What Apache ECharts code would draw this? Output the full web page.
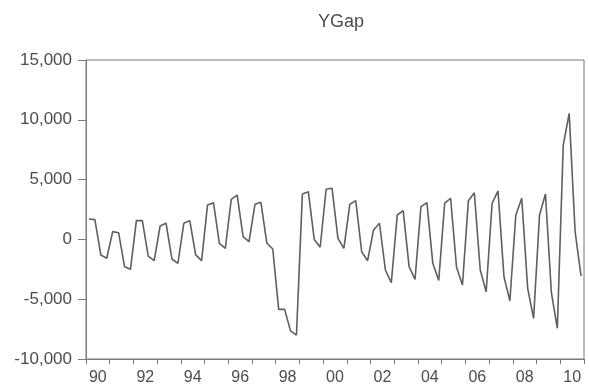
<!DOCTYPE html>
<html>
<head>
<meta charset="utf-8">
<style>
  html, body { margin: 0; padding: 0; background: #ffffff; }
  #chart { width: 589px; height: 387px; }
</style>
<script src="https://cdn.jsdelivr.net/npm/echarts@6/dist/echarts.min.js"></script>
</head>
<body>
<div id="chart"></div>
<script>
// Quarterly output gap, 1990Q1 - 2010Q4
const startYear = 1990;
const endYear = 2010;
const ygap = [
  // 1990 - 1994
  1700, 1650, -1300, -1580,
  650, 560, -2280, -2500,
  1570, 1570, -1390, -1780,
  1120, 1350, -1640, -2000,
  1350, 1570, -1300, -1780,
  // 1995 - 1999
  2880, 3070, -330, -750,
  3350, 3710, 230, -190,
  2930, 3100, -300, -800,
  -5850, -5850, -7650, -8000,
  3800, 3990, 0, -660,
  // 2000 - 2004
  4190, 4270, 90, -750,
  2930, 3240, -1030, -1780,
  790, 1350, -2560, -3620,
  2040, 2400, -2280, -3340,
  2740, 3070, -2000, -3430,
  // 2005 - 2010
  3020, 3440, -2330, -3810,
  3240, 3900, -2560, -4370,
  3020, 4050, -3120, -5130,
  2040, 3440, -4090, -6600,
  2040, 3800, -4460, -7430,
  7890, 10540, 650, -3060
];
const yTicks = [-10000, -5000, 0, 5000, 10000, 15000];
const xTickLabels = ['90', '92', '94', '96', '98', '00', '02', '04', '06', '08', '10'];

// each quarter sits in the middle of its slot on a continuous time axis
const points = ygap.map((v, i) => [startYear + (i + 0.5) / 4, v]);
const yearTicks = [];
for (let y = startYear; y <= endYear + 1; y++) yearTicks.push(y);
// labels centred under their year
const labelPositions = xTickLabels.map((s, k) => startYear + 2 * k + 0.5);

const textColor = '#4d4d4d';
const frameColor = '#7a7a7a';

const chart = echarts.init(document.getElementById('chart'), null, { renderer: 'canvas' });
chart.setOption({
  animation: false,
  backgroundColor: '#ffffff',
  title: {
    text: 'YGap',
    left: 336,
    top: 8,
    textAlign: 'center',
    textStyle: { fontFamily: 'Liberation Sans', fontSize: 18, fontWeight: 'normal', color: textColor }
  },
  grid: {
    left: 86, right: 5, top: 60, bottom: 28,
    show: true, borderColor: frameColor, borderWidth: 1, backgroundColor: 'transparent'
  },
  xAxis: {
    type: 'value',
    min: startYear,
    max: endYear + 1,
    interval: 1,
    splitLine: { show: false },
    axisLine: { show: true, onZero: false, lineStyle: { color: frameColor, width: 1 } },
    axisTick: { show: true, length: 5, inside: false, customValues: yearTicks, lineStyle: { color: frameColor } },
    axisLabel: {
      customValues: labelPositions,
      margin: 11,
      fontFamily: 'Liberation Sans',
      fontSize: 16,
      color: textColor,
      formatter: (v) => xTickLabels[Math.round((v - 0.5 - startYear) / 2)]
    }
  },
  yAxis: {
    type: 'value',
    min: yTicks[0],
    max: yTicks[yTicks.length - 1],
    interval: 5000,
    splitLine: { show: false },
    axisLine: { show: true, onZero: false, lineStyle: { color: frameColor, width: 1 } },
    axisTick: { show: true, length: 8, inside: false, lineStyle: { color: frameColor } },
    axisLabel: {
      margin: 14,
      fontFamily: 'Liberation Sans',
      fontSize: 17,
      color: textColor,
      formatter: (v) => v.toLocaleString('en-US')
    }
  },
  series: [{
    type: 'line',
    data: points,
    showSymbol: false,
    symbol: 'none',
    lineStyle: { color: '#5f5f5f', width: 1.6 },
    emphasis: { disabled: true }
  }]
});
</script>
</body>
</html>
